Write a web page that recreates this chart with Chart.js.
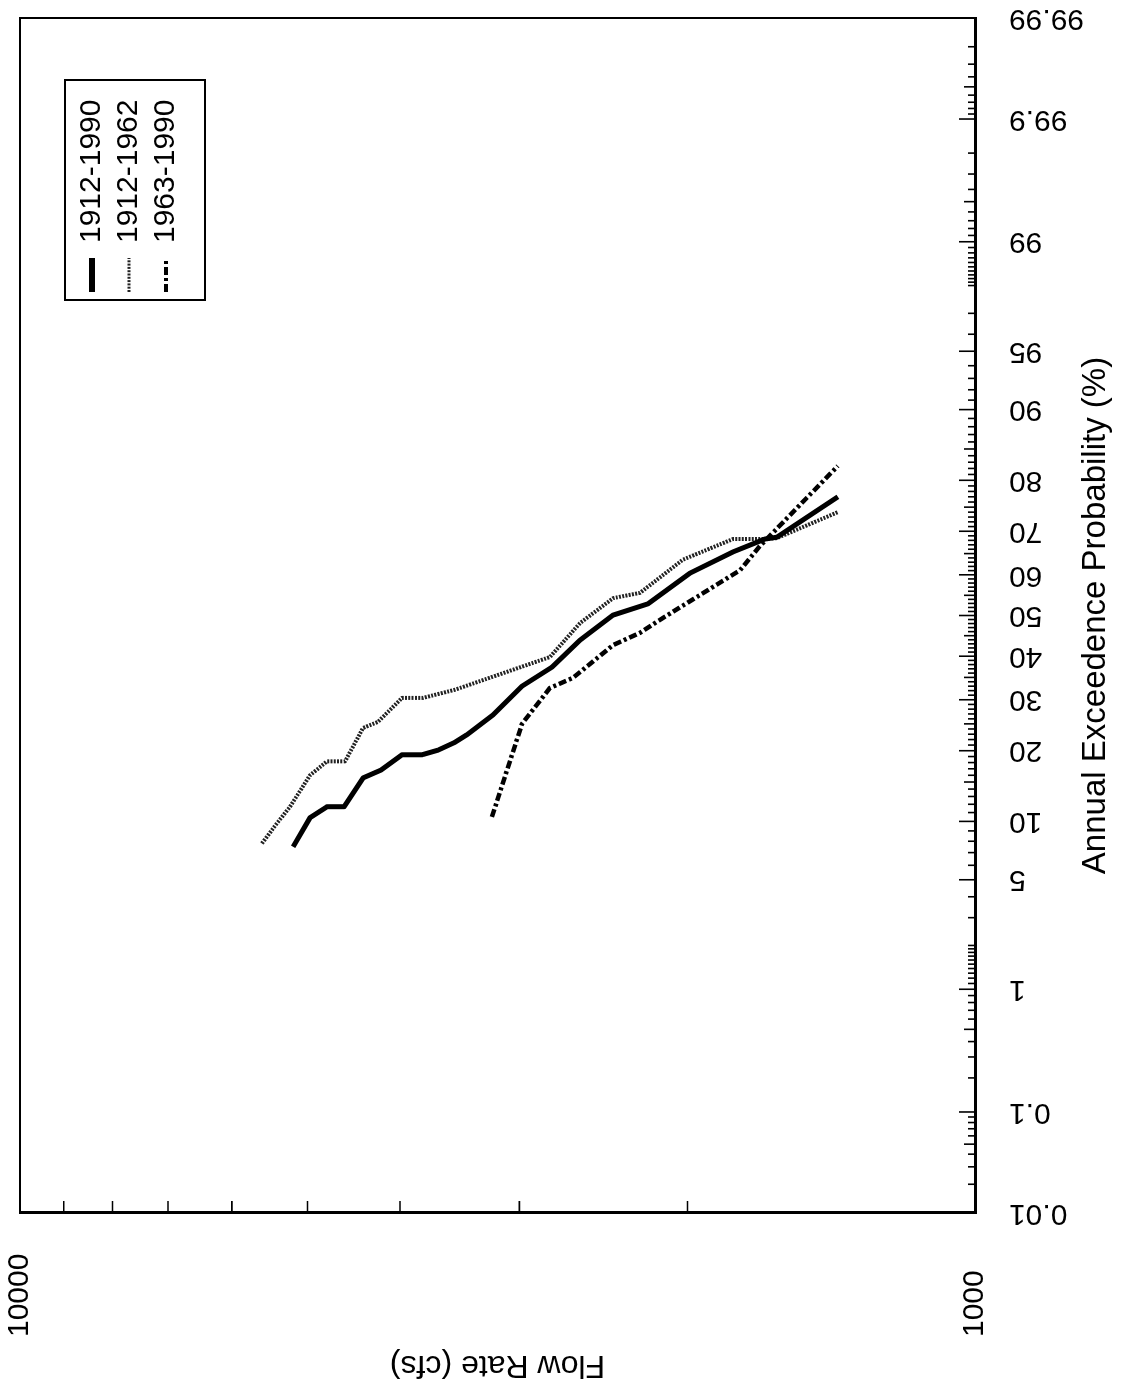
<!DOCTYPE html>
<html>
<head>
<meta charset="utf-8">
<script src="https://cdn.jsdelivr.net/npm/chart.js@4.4.1/dist/chart.umd.min.js"></script>
<style>
html,body{margin:0;padding:0;background:#fff;overflow:hidden;width:1128px;height:1385px;font-family:"Liberation Sans",Arial,sans-serif;}
#wrap{position:absolute;left:0;top:0;width:1385px;height:1128px;transform-origin:0 0;transform:translateY(1385px) rotate(-90deg);}
canvas{display:block;}
</style>
</head>
<body>
<div id="wrap"><canvas id="c" width="1385" height="1128"></canvas></div>
<script>
// ---------------- data ----------------
const seriesNames = ['1912-1990', '1912-1962', '1963-1990'];

// Annual exceedance probability (%) and flow rate (cfs)
const prob1912_1990 = [7.5, 10.4, 11.7, 11.7, 15.6, 16.8, 19.3, 19.3, 20.1, 21.5, 22.9, 26.8, 33.0, 37.4, 43.9, 50.1, 52.9, 60.4, 65.4, 68.3, 68.7, 77.0];
const flow1912_1990 = [5177, 4970, 4770, 4578, 4373, 4187, 3981, 3794, 3650, 3504, 3404, 3197, 2981, 2773, 2592, 2393, 2200, 1988, 1792, 1659, 1612, 1392];

const prob1912_1962 = [7.8, 9.8, 11.7, 16.0, 18.2, 18.2, 24.2, 25.4, 30.4, 30.4, 32.2, 39.8, 48.1, 54.3, 55.6, 63.6, 68.3, 68.3, 68.5, 74.0];
const flow1912_1962 = [5580, 5382, 5215, 4970, 4770, 4567, 4373, 4218, 3981, 3785, 3504, 2787, 2592, 2393, 2243, 2022, 1792, 1659, 1612, 1392];

const prob1963_1990 = [10.5, 25.0, 32.6, 34.9, 42.7, 45.7, 49.4, 61.1, 66.7, 82.4];
const flow1963_1990 = [3205, 2981, 2787, 2636, 2393, 2243, 2122, 1762, 1680, 1392];

// axis ticks
const probLabels = [0.01, 0.1, 1, 5, 10, 20, 30, 40, 50, 60, 70, 80, 90, 95, 99, 99.9, 99.99];
const probMidTicks = [0.05, 0.5, 15, 25, 35, 45, 55, 65, 75, 85, 99.5, 99.95];
const flowTicks = [1000, 2000, 3000, 4000, 5000, 6000, 7000, 8000, 9000, 10000];
const flowLabels = [1000, 10000];

function steps(a, b, s) { const out = []; for (let v = a; v <= b + s / 2; v += s) out.push(Math.round(v * 100) / 100); return out; }
const probMinorTicks = [].concat(
  steps(0.02, 0.09, 0.01), steps(0.2, 0.9, 0.1), steps(1.1, 1.9, 0.1),
  steps(2, 98, 1).filter(v => !probLabels.includes(v)),
  steps(98.1, 98.9, 0.1), steps(99.1, 99.8, 0.1), steps(99.91, 99.98, 0.01)
);
const probAllTicks = [...new Set(probLabels.concat(probMinorTicks))].sort((a, b) => a - b);

// ---------------- normal probability scale ----------------
function normInv(p) {
  const a = [-3.969683028665376e+01, 2.209460984245205e+02, -2.759285104469687e+02, 1.383577518672690e+02, -3.066479806614716e+01, 2.506628277459239e+00];
  const b = [-5.447609879822406e+01, 1.615858368580409e+02, -1.556989798598866e+02, 6.680131188771972e+01, -1.328068155288572e+01];
  const c = [-7.784894002430293e-03, -3.223964580411365e-01, -2.400758277161838e+00, -2.549732539343734e+00, 4.374664141464968e+00, 2.938163982698783e+00];
  const d = [7.784695709041462e-03, 3.224671290700398e-01, 2.445134137142996e+00, 3.754408661907416e+00];
  const pl = 0.02425, ph = 1 - pl;
  let q, r;
  if (p < pl) { q = Math.sqrt(-2 * Math.log(p)); return (((((c[0]*q+c[1])*q+c[2])*q+c[3])*q+c[4])*q+c[5]) / ((((d[0]*q+d[1])*q+d[2])*q+d[3])*q+1); }
  if (p <= ph) { q = p - 0.5; r = q * q; return (((((a[0]*r+a[1])*r+a[2])*r+a[3])*r+a[4])*r+a[5])*q / (((((b[0]*r+b[1])*r+b[2])*r+b[3])*r+b[4])*r+1); }
  q = Math.sqrt(-2 * Math.log(1 - p)); return -(((((c[0]*q+c[1])*q+c[2])*q+c[3])*q+c[4])*q+c[5]) / ((((d[0]*q+d[1])*q+d[2])*q+d[3])*q+1);
}
function normCdf(z) {
  const t = 1 / (1 + 0.2316419 * Math.abs(z));
  const d = 0.3989423 * Math.exp(-z * z / 2);
  const pr = d * t * (0.3193815 + t * (-0.3565638 + t * (1.781478 + t * (-1.821256 + t * 1.330274))));
  return z > 0 ? 1 - pr : pr;
}

class ProbitScale extends Chart.Scale {
  static id = 'probit';
  static defaults = {};
  parse(raw) { return raw == null ? null : +raw; }
  determineDataLimits() {
    this.min = this.options.min;
    this.max = this.options.max;
  }
  buildTicks() { return probAllTicks.map(v => ({ value: v })); }
  getLabelForValue(v) { return String(v); }
  configure() {
    super.configure();
    this._zMin = normInv(this.min / 100);
    this._zMax = normInv(this.max / 100);
  }
  getPixelForValue(v) {
    if (v == null || isNaN(v)) return NaN;
    return this.getPixelForDecimal((normInv(v / 100) - this._zMin) / (this._zMax - this._zMin));
  }
  getValueForPixel(px) {
    const dec = this.getDecimalForPixel(px);
    return 100 * normCdf(this._zMin + dec * (this._zMax - this._zMin));
  }
}
Chart.register(ProbitScale);

// ---------------- chart ----------------
const FONT = '"Liberation Sans", Arial, Helvetica, sans-serif';
Chart.defaults.font.family = FONT;
Chart.defaults.color = '#000';

const toPoints = (px, fy) => px.map((p, i) => ({ x: p, y: fy[i] }));

const framePlugin = {
  id: 'frame',
  afterLayout(chart) {
    const lg = chart.legend, ca = chart.chartArea;
    if (!lg) return;
    lg.left = ca.right - 281;
    lg.top = ca.top + 50;
    lg.right = lg.left + lg.width;
    lg.bottom = lg.top + lg.height;
  },
  afterDraw(chart) {
    const { ctx, chartArea: ca, scales } = chart;
    const xs = scales.x, ys = scales.y;
    ctx.save();
    ctx.strokeStyle = '#000';
    ctx.lineWidth = 2;
    ctx.strokeRect(ca.left, ca.top, ca.right - ca.left, ca.bottom - ca.top);
    // inward tick marks
    ctx.lineWidth = 1.6;
    ctx.beginPath();
    xs.ticks.forEach(t => {
      const px = xs.getPixelForValue(t.value);
      const len = probLabels.includes(t.value) ? 16 : (probMidTicks.includes(t.value) ? 11 : 7);
      ctx.moveTo(px, ca.bottom);
      ctx.lineTo(px, ca.bottom - len);
    });
    ys.ticks.forEach(t => {
      if (t.value <= 1000 || t.value >= 10000) return;
      const py = ys.getPixelForValue(t.value);
      ctx.moveTo(ca.left, py);
      ctx.lineTo(ca.left + 12, py);
    });
    ctx.stroke();
    // legend frame
    const lg = chart.legend;
    if (lg) {
      ctx.lineWidth = 2;
      ctx.strokeRect(lg.left - 1, lg.top - 5, 220, 140);
    }
    ctx.restore();
  }
};

function build() {
  new Chart(document.getElementById('c').getContext('2d'), {
    type: 'line',
    data: {
      datasets: [
        { label: seriesNames[0], data: toPoints(prob1912_1990, flow1912_1990), borderColor: '#000', borderWidth: 5, borderDash: [], legendWidth: 6 },
        { label: seriesNames[1], data: toPoints(prob1912_1962, flow1912_1962), borderColor: '#222', borderWidth: 4, borderDash: [2, 1.3], legendWidth: 3 },
        { label: seriesNames[2], data: toPoints(prob1963_1990, flow1963_1990), borderColor: '#000', borderWidth: 4.5, borderDash: [8, 3, 3, 3], legendWidth: 4 }
      ]
    },
    options: {
      responsive: false,
      animation: false,
      devicePixelRatio: 1,
      events: [],
      layout: { padding: { left: 48, top: 20, right: 18, bottom: 0 } },
      elements: {
        point: { radius: 0 },
        line: { tension: 0, fill: false, borderJoinStyle: 'round', borderCapStyle: 'butt' }
      },
      plugins: {
        tooltip: { enabled: false },
        legend: {
          display: true,
          position: 'chartArea',
          align: 'start',
          labels: {
            usePointStyle: true,
            pointStyleWidth: 34,
            boxHeight: 30,
            padding: 7,
            font: { size: 30, family: FONT },
            color: '#000',
            generateLabels: chart => chart.data.datasets.map((ds, i) => ({
              text: ds.label,
              fillStyle: ds.borderColor,
              strokeStyle: ds.borderColor,
              fontColor: '#000',
              lineWidth: ds.legendWidth,
              lineDash: ds.borderDash,
              lineCap: 'butt',
              pointStyle: 'line',
              hidden: false,
              datasetIndex: i
            }))
          }
        }
      },
      scales: {
        x: {
          type: 'probit',
          position: 'bottom',
          min: 0.01,
          max: 99.99,
          grid: { drawOnChartArea: false, drawTicks: false },
          border: { display: true, width: 3, color: '#000' },
          ticks: {
            autoSkip: false,
            minRotation: 90,
            maxRotation: 90,
            padding: 34,
            font: { size: 30, family: FONT },
            color: '#000',
            callback: v => probLabels.includes(v) ? String(v) : ''
          },
          title: {
            display: true,
            text: 'Annual Exceedence Probability (%)',
            font: { size: 33, family: FONT },
            color: '#000',
            padding: { top: 0, bottom: 12 }
          },
          afterFit: s => { s.height = 153; s.paddingLeft = 0; s.paddingRight = 0; }
        },
        y: {
          type: 'logarithmic',
          position: 'left',
          min: 1000,
          max: 10000,
          afterBuildTicks: s => { s.ticks = flowTicks.map(v => ({ value: v })); },
          grid: { drawOnChartArea: false, drawTicks: false },
          border: { display: true, width: 3, color: '#000' },
          ticks: {
            autoSkip: false,
            crossAlign: 'far',
            font: { size: 30, family: FONT },
            color: '#000',
            callback: v => flowLabels.includes(v) ? String(v) : ''
          },
          title: {
            display: true,
            text: 'Flow Rate (cfs)',
            font: { size: 32, family: FONT },
            color: '#000',
            padding: { top: -47, bottom: 0 }
          },
          afterFit: s => { s.width = 124; s.paddingTop = 0; s.paddingBottom = 0; }
        }
      }
    },
    plugins: [framePlugin]
  });
}

const fontReady = (document.fonts && document.fonts.load)
  ? Promise.all([document.fonts.load('30px "Liberation Sans"'), document.fonts.load('33px "Liberation Sans"')]).catch(() => {})
  : Promise.resolve();
fontReady.then(build, build);
</script>
</body>
</html>
